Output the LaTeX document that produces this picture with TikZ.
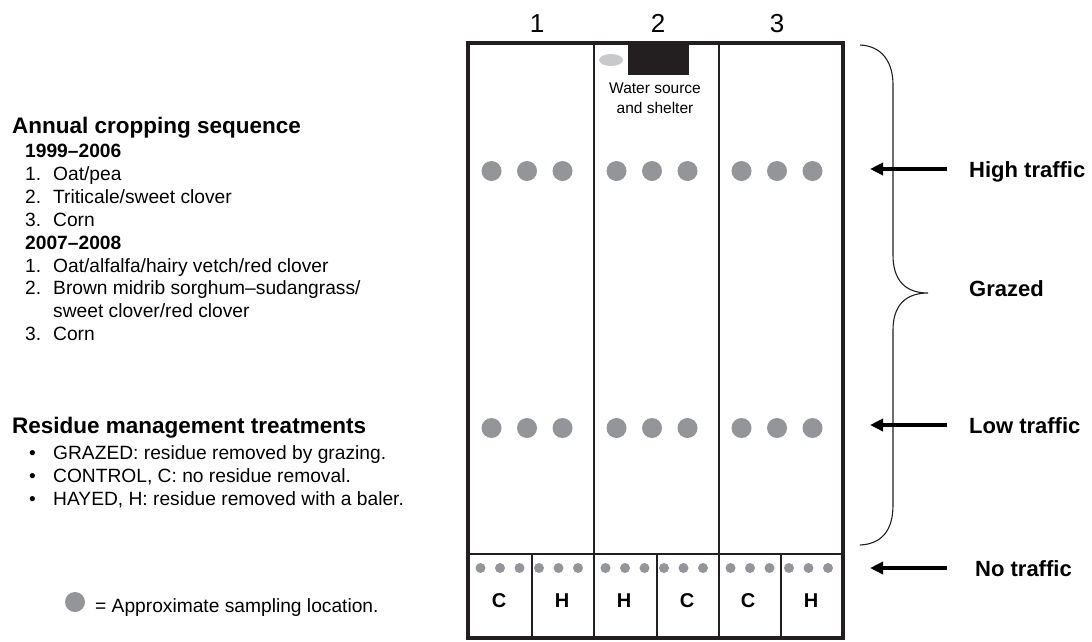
\documentclass[tikz,border=0pt]{standalone}
\usepackage{fontspec}
\setmainfont{Liberation Sans}
\usetikzlibrary{arrows.meta}
\definecolor{dotgray}{RGB}{147,149,152}
\definecolor{tankgray}{RGB}{200,201,203}
\definecolor{inkblack}{RGB}{35,31,32}
\begin{document}
\begin{tikzpicture}[x=1pt,y=-1pt,
    sampledot/.style={circle,fill=dotgray,inner sep=0pt,minimum size=20pt},
    smalldot/.style={circle,fill=dotgray,inner sep=0pt,minimum size=10pt},
    trafficarrow/.style={line width=4pt,-{Triangle[length=13pt,width=12pt]}},
    plain/.style={anchor=base west,inner sep=0pt,font=\fontsize{19.2}{23}\selectfont},
    head/.style={anchor=base west,inner sep=0pt,font=\fontsize{22.5}{27}\selectfont\bfseries},
    side/.style={anchor=base west,inner sep=0pt,font=\fontsize{22}{26}\selectfont\bfseries},
    plotletter/.style={anchor=base,inner sep=0pt,font=\fontsize{20}{24}\selectfont\bfseries}]
    \useasboundingbox (0,0) rectangle (1092,641);
    % cropping sequence
    \node[head] (seqhead) at (12,133) {Annual cropping sequence};
    \node[plain,font=\fontsize{19.2}{23}\selectfont\bfseries] (years1) at (25,157) {1999--2006};
    \node[plain,font=\fontsize{19.2}{23}\selectfont\bfseries] (years2) at (25,249) {2007--2008};
    \foreach \y/\n/\t [count=\i] in {180/1./{Oat/pea}, 203/2./{Triticale/sweet clover}, 226/3./Corn,
        272/1./{Oat/alfalfa/hairy vetch/red clover}, 294/2./{Brown midrib sorghum--sudangrass/},
        317/{}/{sweet clover/red clover}, 340/3./Corn}
    {
    \node[plain] (crop\i) at (25,\y) {\makebox[28pt][l]{\n}\t};
    }
    % residue treatments
    \node[head] (treathead) at (12,433) {Residue management treatments};
    \foreach \y/\t [count=\i] in {459/{GRAZED: residue removed by grazing.}, 482/{CONTROL, C: no residue removal.},
        505/{HAYED, H: residue removed with a baler.}}
    {
    \node[plain] (treat\i) at (29,\y) {\makebox[24pt][l]{\textbullet}\t};
    }
    % legend
    \node[sampledot] (legenddot) at (75,602) {};
    \node[plain] (legendtext) at (95,612) {= Approximate sampling location.};
    % field plan
    \foreach \x in {594,719}
    {
    \draw[line width=2pt,inkblack] (\x,43) -- (\x,638);
    }
    \draw[line width=2pt,inkblack] (468,554) -- (843,554);
    \foreach \x in {532,657,781}
    {
    \draw[line width=2pt,inkblack] (\x,554) -- (\x,638);
    }
    \draw[line width=3.5pt,inkblack] (468,43) rectangle (843,638);
    \fill[inkblack] (628,42) rectangle (689,75);
    \fill[tankgray] (611,60) ellipse [x radius=12, y radius=6];
    \node[inner sep=0pt,align=center,anchor=north,font=\fontsize{15.5}{20}\selectfont] (water) at (655,83) {Water source\\and shelter};
    \foreach \c/\nx in {1/537,2/658,3/777}
    {
    \node[anchor=base,inner sep=0pt,font=\fontsize{26}{30}\selectfont] (num\c) at (\nx,32) {\c};
    \pgfmathsetmacro\cx{468+125*(\c-1)}
    \foreach \k in {0,1,2}
    {
    \node[sampledot] (high\c\k) at (\cx+23.5+35.5*\k,171) {};
    \node[sampledot] (low\c\k) at (\cx+23.5+35.5*\k,428) {};
    }
    \foreach \k in {0,...,5}
    {
    \node[smalldot] (none\c\k) at (\cx+12.5+19.5*\k,568) {};
    }
    }
    \foreach \x/\l [count=\i] in {499/C,562/H,624/H,687/C,748/C,811/H}
    {
    \node[plotletter] (plot\i) at (\x,607) {\l};
    }
    % brace
    \draw[line width=1.1pt,inkblack] (860,45) .. controls (882,46) and (893,62) .. (893,85) -- (893,255)
        .. controls (893,280) and (905,293) .. (928,293)
        .. controls (905,293) and (893,306) .. (893,330) -- (893,505)
        .. controls (893,530) and (882,544) .. (860,545);
    % traffic labels
    \node[side] (high) at (969,177) {High traffic};
    \node[side] (grazed) at (969,296) {Grazed};
    \node[side] (low) at (969,433) {Low traffic};
    \node[side] (none) at (975,576) {No traffic};
    \coordinate (hightail) at (947,169);
    \coordinate (hightip) at (870,169);
    \coordinate (lowtail) at (947,425);
    \coordinate (lowtip) at (870,425);
    \coordinate (nonetail) at (947,568);
    \coordinate (nonetip) at (870,568);
    \draw[trafficarrow] (hightail) -- (hightip);
    \draw[trafficarrow] (lowtail) -- (lowtip);
    \draw[trafficarrow] (nonetail) -- (nonetip);
\end{tikzpicture}
\end{document}
